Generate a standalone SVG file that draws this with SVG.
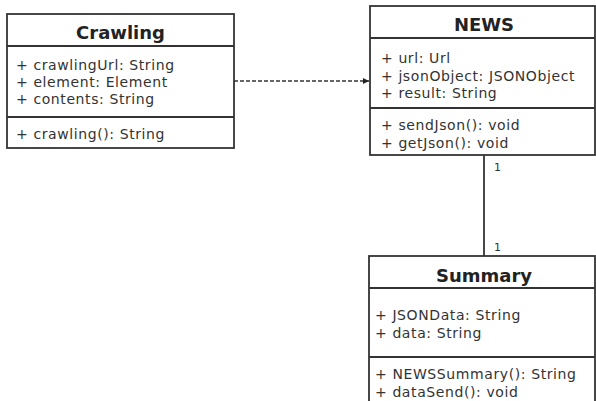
<svg xmlns="http://www.w3.org/2000/svg" width="596" height="401" viewBox="0 0 596 401">
<defs>
<style>
.box{fill:#fff;stroke:#333;stroke-width:1.8}
.sep{stroke:#333;stroke-width:1.8}
.title{font-family:"DejaVu Sans",Verdana,sans-serif;font-weight:bold;font-size:18px;fill:#222;text-anchor:middle}
.txt{font-family:"DejaVu Sans",Verdana,sans-serif;font-size:14px;letter-spacing:0.6px;fill:#333}
.mult{font-family:"DejaVu Sans",Verdana,sans-serif;font-size:11px;fill:#333}
.dep{stroke:#333;stroke-width:1.6;stroke-dasharray:4,2;fill:none}
.assoc{stroke:#333;stroke-width:1.8;fill:none}
</style>
<marker id="arrow" markerWidth="8" markerHeight="8" refX="6" refY="3" orient="auto" markerUnits="userSpaceOnUse">
<path d="M0,0 L6,3 L0,6 z" fill="#222"/>
</marker>
</defs>
<rect width="596" height="401" fill="#fff"/>
<g id="connectors">
<line class="dep" x1="234" y1="81" x2="369" y2="81" marker-end="url(#arrow)"/>
<line class="assoc" x1="484" y1="155" x2="484" y2="256"/>
<text class="mult" x="494" y="171">1</text>
<text class="mult" x="494" y="251">1</text>
</g>
<g id="crawling">
<rect class="box" x="7" y="14" width="227" height="134"/>
<line class="sep" x1="7" y1="46" x2="234" y2="46"/>
<line class="sep" x1="7" y1="117" x2="234" y2="117"/>
<text class="title" x="120.5" y="39">Crawling</text>
<text class="txt" x="16" y="70">+ crawlingUrl: String</text>
<text class="txt" x="16" y="87">+ element: Element</text>
<text class="txt" x="16" y="104">+ contents: String</text>
<text class="txt" x="16" y="139">+ crawling(): String</text>
</g>
<g id="news">
<rect class="box" x="370" y="6" width="225" height="149"/>
<line class="sep" x1="370" y1="38" x2="595" y2="38"/>
<line class="sep" x1="370" y1="108" x2="595" y2="108"/>
<text class="title" x="484" y="31">NEWS</text>
<text class="txt" x="381" y="63">+ url: Url</text>
<text class="txt" x="381" y="81">+ jsonObject: JSONObject</text>
<text class="txt" x="381" y="98">+ result: String</text>
<text class="txt" x="381" y="130">+ sendJson(): void</text>
<text class="txt" x="381" y="148">+ getJson(): void</text>
</g>
<g id="summary">
<rect class="box" x="369" y="256" width="226" height="160"/>
<line class="sep" x1="369" y1="288" x2="595" y2="288"/>
<line class="sep" x1="369" y1="357" x2="595" y2="357"/>
<text class="title" x="484" y="282">Summary</text>
<text class="txt" x="375" y="320">+ JSONData: String</text>
<text class="txt" x="375" y="338">+ data: String</text>
<text class="txt" x="375" y="379">+ NEWSSummary(): String</text>
<text class="txt" x="375" y="397">+ dataSend(): void</text>
</g>
</svg>
